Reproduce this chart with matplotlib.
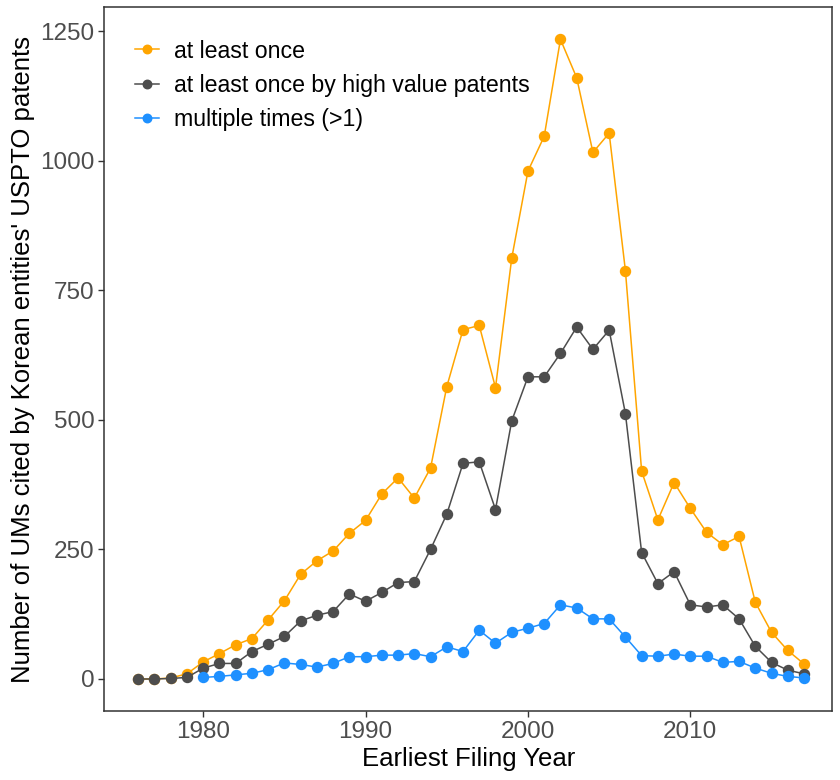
import matplotlib
matplotlib.use('Agg')
import matplotlib.pyplot as plt

plt.rcParams.update({'font.family': ['Liberation Sans', 'DejaVu Sans']})

# values
years = list(range(1976, 2018))
at_least_once = [0, 0, 2, 10, 33, 49, 66, 78, 114, 151, 202, 228, 247, 281, 306,
                 357, 388, 349, 407, 564, 674, 682, 562, 812, 980, 1047, 1234,
                 1160, 1016, 1053, 788, 401, 307, 379, 329, 283, 259, 275, 148,
                 90, 55, 29]
high_value = [0, 0, 1, 3, 21, 30, 30, 53, 67, 82, 112, 123, 130, 164, 150, 167,
              186, 188, 250, 318, 416, 419, 327, 498, 583, 583, 628, 679, 636,
              673, 512, 244, 184, 207, 143, 139, 143, 116, 63, 32, 17, 10]
years_multi = list(range(1980, 2018))
multiple = [3, 5, 8, 11, 18, 31, 28, 23, 30, 43, 43, 46, 46, 49, 43, 62, 53, 94,
            69, 90, 98, 107, 143, 137, 116, 116, 81, 45, 44, 48, 44, 44, 32, 34,
            21, 11, 5, 2]

labels = ['at least once', 'at least once by high value patents', 'multiple times (>1)']
colors = ['#FFA500', '#4D4D4D', '#1E90FF']

fig = plt.figure(figsize=(8.4, 7.8), dpi=100)
ax = fig.add_axes([0.124, 0.0885, 0.867, 0.902])

series = [(years, at_least_once), (years, high_value), (years_multi, multiple)]
for (x, y), lab, c in zip(series, labels, colors):
    ax.plot(x, y, color=c, lw=1.1, marker='o', ms=7.2, mec=c, mfc=c, label=lab)

ax.set_xlim(1973.9, 2018.75)
ax.set_ylim(-61.7, 1295.7)
ax.set_xticks([1980, 1990, 2000, 2010])
ax.set_yticks([0, 250, 500, 750, 1000, 1250])

ax.tick_params(axis='both', labelsize=17.5, labelcolor='#4D4D4D', color='#333333',
               length=4, width=1.0, pad=3)
for s in ax.spines.values():
    s.set_color('#333333')
    s.set_linewidth(1.1)

ax.set_xlabel('Earliest Filing Year', fontsize=18.5, labelpad=3)
ax.set_ylabel("Number of UMs cited by Korean entities' USPTO patents", fontsize=18.5,
              labelpad=4)

ax.legend(loc='upper left', bbox_to_anchor=(0.013, 0.984), frameon=False,
          fontsize=16.7, handlelength=1.05, handletextpad=0.65, labelspacing=0.48,
          markerscale=0.85)

fig.savefig('out.png', dpi=100)
